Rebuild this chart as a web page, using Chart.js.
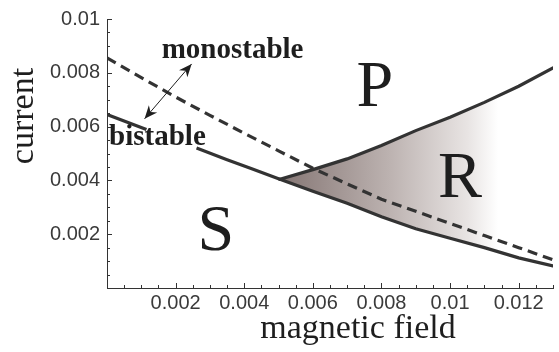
<!DOCTYPE html>
<html lang="en">
<head>
  <meta charset="UTF-8">
  <title>Phase diagram - current vs magnetic field</title>
  <style>
    body {
      margin: 0;
      background: white;
    }
    #wrap {
      width: 559px;
      height: 352px;
    }
  </style>
</head>
<body>
  <div id="wrap"><canvas id="phaseChart" width="559" height="352"></canvas></div>

  <script src="https://cdn.jsdelivr.net/npm/chart.js"></script>
  <script>
    // boundary curves (field in T, current in A)
    const leftFieldX   = [0, 0.00115, 0.0019, 0.00261, 0.0035, 0.0042, 0.00504];
    const leftCurrent  = [0.00645, 0.00589, null, 0.0052, 0.00477, 0.00444, 0.00404];

    const lowerFieldX  = [0.00504, 0.006, 0.007, 0.008, 0.009, 0.010, 0.011, 0.012, 0.013];
    const lowerCurrent = [0.00404, 0.0036, 0.00315, 0.00265, 0.0022, 0.00185, 0.0015, 0.00112, 0.00082];

    const upperFieldX  = [0.00504, 0.006, 0.007, 0.008, 0.009, 0.010, 0.011, 0.012, 0.013];
    const upperCurrent = [0.00404, 0.0044, 0.0048, 0.0053, 0.00585, 0.00635, 0.0069, 0.0075, 0.00818];

    const dashFieldX   = [0, 0.001, 0.002, 0.003, 0.004, 0.005, 0.006, 0.007, 0.008, 0.009, 0.010, 0.011, 0.012, 0.013];
    const dashCurrent  = [0.00855, 0.00782, 0.0071, 0.00642, 0.00575, 0.0051, 0.00445, 0.00387, 0.0033, 0.00285, 0.0024, 0.00195, 0.0015, 0.00105];

    const xTickLabels = ['0.002', '0.004', '0.006', '0.008', '0.01', '0.012'];
    const yTickLabels = ['0.002', '0.004', '0.006', '0.008', '0.01'];

    const regionNames  = ['P', 'R', 'S'];
    const regionFieldX = [0.00781, 0.01029, 0.00317];
    const regionCurr   = [0.00676, 0.00338, 0.00142];

    const toPoints = (xs, ys) => xs.map((x, i) => ({ x: x, y: ys[i] }));

    const lineColor = '#333333';
    const serif = '"Liberation Serif", "Times New Roman", serif';
    const sans = '"Liberation Sans", Arial, sans-serif';

    function tickLabel(values) {
      return function (value) {
        const s = parseFloat(value.toFixed(4)).toString();
        return values.includes(s) ? s : '';
      };
    }

    // shading of region R, fading out to the right
    function shadeR(context) {
      const chart = context.chart;
      const area = chart.chartArea;
      if (!area) return 'rgba(0,0,0,0)';
      const x0 = chart.scales.x.getPixelForValue(0.00504);
      const x1 = chart.scales.x.getPixelForValue(0.0114);
      const g = chart.ctx.createLinearGradient(x0, 0, x1, 0);
      g.addColorStop(0, '#857674');
      g.addColorStop(0.5, '#bcb2b0');
      g.addColorStop(0.86, '#e8e4e3');
      g.addColorStop(1, '#ffffff');
      return g;
    }

    function arrowHead(ctx, tx, ty, fx, fy) {
      const ang = Math.atan2(ty - fy, tx - fx);
      const len = 13, half = 5.5;
      ctx.save();
      ctx.translate(tx, ty);
      ctx.rotate(ang);
      ctx.beginPath();
      ctx.moveTo(0, 0);
      ctx.lineTo(-len, -half);
      ctx.lineTo(-len * 0.7, 0);
      ctx.lineTo(-len, half);
      ctx.closePath();
      ctx.fill();
      ctx.restore();
    }

    // inward ticks, Mathematica style
    const insideTicks = {
      id: 'insideTicks',
      afterDraw(chart) {
        const { ctx, chartArea, scales } = chart;
        ctx.save();
        ctx.strokeStyle = lineColor;
        ctx.lineWidth = 1;
        scales.x.ticks.forEach(t => {
          const px = Math.round(scales.x.getPixelForValue(t.value)) + 0.5;
          const len = t.label ? 5 : 3;
          ctx.beginPath();
          ctx.moveTo(px, chartArea.bottom);
          ctx.lineTo(px, chartArea.bottom - len);
          ctx.stroke();
        });
        scales.y.ticks.forEach(t => {
          const py = Math.round(scales.y.getPixelForValue(t.value)) + 0.5;
          const len = t.label ? 5 : 3;
          ctx.beginPath();
          ctx.moveTo(chartArea.left, py);
          ctx.lineTo(chartArea.left + len, py);
          ctx.stroke();
        });
        ctx.restore();
      }
    };

    // region letters, stability labels, arrow and axis titles
    const annotations = {
      id: 'annotations',
      afterDraw(chart) {
        const { ctx, chartArea, scales } = chart;
        const X = v => scales.x.getPixelForValue(v);
        const Y = v => scales.y.getPixelForValue(v);
        ctx.save();
        ctx.fillStyle = '#1e1e1e';
        ctx.textAlign = 'center';
        ctx.textBaseline = 'alphabetic';

        ctx.font = '66px ' + serif;
        regionNames.forEach((n, i) => {
          ctx.fillText(n, X(regionFieldX[i]), Y(regionCurr[i]));
        });

        ctx.font = 'bold 29px ' + serif;
        ctx.fillText('monostable', X(0.00366), Y(0.00855));
        ctx.fillText('bistable', X(0.00147), Y(0.00531));

        // double arrow between the two labels
        const ax = X(0.001095), ay = Y(0.00629);
        const bx = X(0.002467), by = Y(0.00833);
        ctx.strokeStyle = '#1e1e1e';
        ctx.lineWidth = 1;
        ctx.beginPath();
        ctx.moveTo(ax, ay);
        ctx.lineTo(bx, by);
        ctx.stroke();
        arrowHead(ctx, ax, ay, bx, by);
        arrowHead(ctx, bx, by, ax, ay);

        ctx.font = '34px ' + serif;
        ctx.fillText('magnetic field', 358, chartArea.bottom + 50);

        ctx.translate(chartArea.left - 74, chartArea.top + 97);
        ctx.rotate(-Math.PI / 2);
        ctx.fillText('current', 0, 0);
        ctx.restore();
      }
    };

    const ctx = document.getElementById('phaseChart').getContext('2d');
    new Chart(ctx, {
      type: 'scatter',
      data: {
        datasets: [
          {
            label: 'upper',
            data: toPoints(upperFieldX, upperCurrent),
            showLine: true,
            borderColor: lineColor,
            borderWidth: 3.2,
            borderCapStyle: 'round',
            pointRadius: 0,
            backgroundColor: shadeR,
            fill: 1
          },
          {
            label: 'lower',
            data: toPoints(lowerFieldX, lowerCurrent),
            showLine: true,
            borderColor: lineColor,
            borderWidth: 3.2,
            borderCapStyle: 'round',
            pointRadius: 0,
            fill: false
          },
          {
            label: 'left',
            data: toPoints(leftFieldX, leftCurrent),
            showLine: true,
            spanGaps: false,
            borderColor: lineColor,
            borderWidth: 3.2,
            pointRadius: 0,
            fill: false
          },
          {
            label: 'dashed',
            data: toPoints(dashFieldX, dashCurrent),
            showLine: true,
            borderColor: lineColor,
            borderWidth: 3.2,
            borderDash: [10, 6],
            pointRadius: 0,
            fill: false
          }
        ]
      },
      options: {
        responsive: false,
        animation: false,
        layout: {
          padding: { left: 0, right: 6, top: 13, bottom: 0 }
        },
        plugins: {
          legend: { display: false },
          tooltip: { enabled: false },
          filler: { drawTime: 'beforeDatasetsDraw' }
        },
        scales: {
          x: {
            type: 'linear',
            min: 0,
            max: 0.013,
            grid: { display: false, drawTicks: false },
            border: { display: true, color: lineColor, width: 1 },
            afterFit: scale => { scale.height = 64; },
            ticks: {
              stepSize: 0.0005,
              autoSkip: false,
              minRotation: 0,
              maxRotation: 0,
              padding: 3,
              color: '#3a3a3a',
              font: { family: sans, size: 20 },
              callback: tickLabel(xTickLabels)
            }
          },
          y: {
            type: 'linear',
            min: 0,
            max: 0.01,
            grid: { display: false, drawTicks: false },
            border: { display: true, color: lineColor, width: 1 },
            afterFit: scale => { scale.width = 107; },
            ticks: {
              stepSize: 0.0005,
              autoSkip: false,
              padding: 7,
              color: '#3a3a3a',
              font: { family: sans, size: 20 },
              callback: tickLabel(yTickLabels)
            }
          }
        }
      },
      plugins: [insideTicks, annotations]
    });
  </script>
</body>
</html>
